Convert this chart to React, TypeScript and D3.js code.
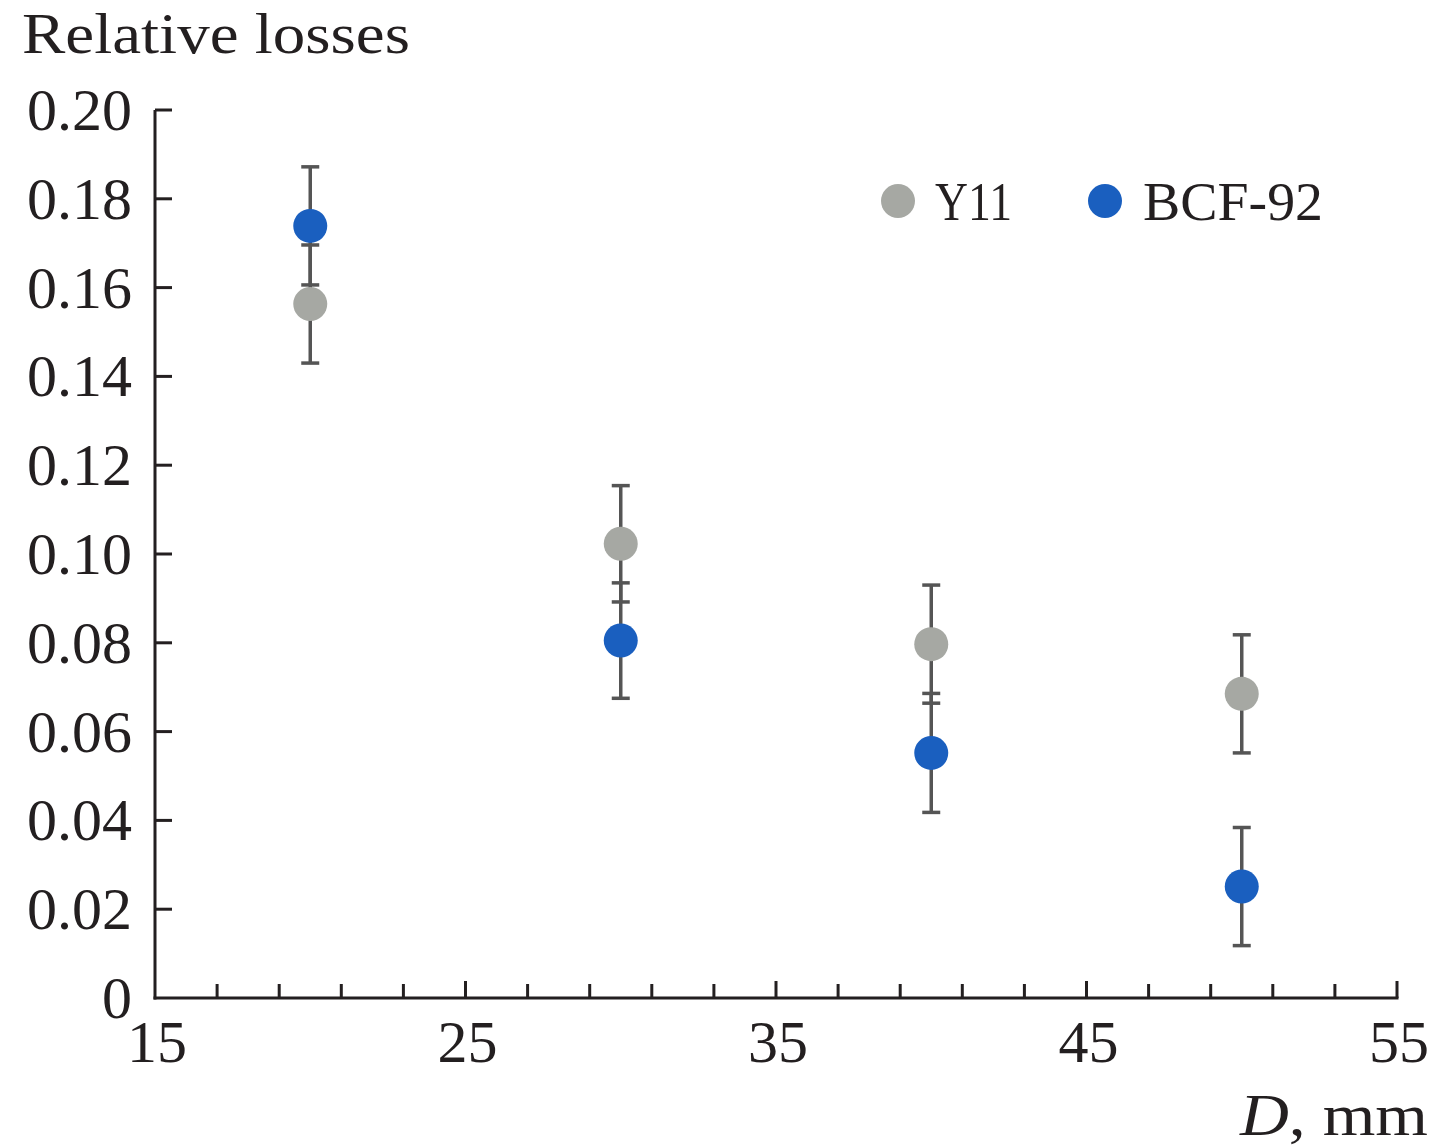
import React from "react";
import * as d3 from "d3";

const diameters = [20, 30, 40, 50];
const y11Values = [0.1563, 0.1023, 0.0797, 0.0685];
const y11Errors = [0.0133, 0.0131, 0.0133, 0.0133];
const bcfValues = [0.1739, 0.0805, 0.0552, 0.0251];
const bcfErrors = [0.0133, 0.013, 0.0134, 0.0133];
const yTickValues = [0, 0.02, 0.04, 0.06, 0.08, 0.1, 0.12, 0.14, 0.16, 0.18, 0.2];
const yTickLabels = ["0", "0.02", "0.04", "0.06", "0.08", "0.10", "0.12", "0.14", "0.16", "0.18", "0.20"];
const xMajorTicks = [15, 25, 35, 45, 55];
const xTickLabels = ["15", "25", "35", "45", "55"];
const seriesNames = ["Y11", "BCF-92"];

const FONT = "'Liberation Serif', 'Times New Roman', serif";
const INK = "#231f20";
const GRAY = "#a6a8a3";
const BLUE = "#1a5fbf";
const ERR = "#555555";

export default function App() {
  const x = d3.scaleLinear().domain([15, 55]).range([155, 1397]);
  const y = d3.scaleLinear().domain([0, 0.2]).range([998, 110]);
  const xMinor = d3.range(15, 55.01, 2);

  const series = [
    { name: seriesNames[0], values: y11Values, errors: y11Errors, color: GRAY },
    { name: seriesNames[1], values: bcfValues, errors: bcfErrors, color: BLUE },
  ];

  const capHalf = 9;

  return (
    <svg
      width={1440}
      height={1148}
      style={{ position: "absolute", left: 0, top: 0, display: "block", background: "#fff" }}
    >
      {/* axes */}
      <line x1={x(15)} x2={x(15)} y1={y(0.2)} y2={y(0) + 1.5} stroke={INK} strokeWidth={3} />
      <line x1={x(15) - 1.5} x2={x(55) + 1.5} y1={y(0)} y2={y(0)} stroke={INK} strokeWidth={3} />

      {/* y ticks */}
      {yTickValues.map((v, i) => (
        <g key={"yt" + i}>
          {v > 0 && (
            <line x1={x(15)} x2={x(15) + 17} y1={y(v)} y2={y(v)} stroke={INK} strokeWidth={3} />
          )}
          <text
            x={132}
            y={y(v) + 20}
            textAnchor="end"
            fontFamily={FONT}
            fontSize={60}
            fill={INK}
          >
            {yTickLabels[i]}
          </text>
        </g>
      ))}

      {/* x ticks */}
      {xMinor.map((v, i) => {
        const major = xMajorTicks.some((m) => Math.abs(m - v) < 1e-6);
        if (Math.abs(v - 15) < 1e-6) return null;
        return (
          <line
            key={"xt" + i}
            x1={x(v)}
            x2={x(v)}
            y1={y(0)}
            y2={y(0) - (major ? 17 : 14)}
            stroke={INK}
            strokeWidth={3}
          />
        );
      })}
      {xMajorTicks.map((v, i) => (
        <text
          key={"xl" + i}
          x={x(v) + 2}
          y={1062}
          textAnchor="middle"
          fontFamily={FONT}
          fontSize={60}
          fill={INK}
        >
          {xTickLabels[i]}
        </text>
      ))}

      {/* axis titles */}
      <text
        x={22}
        y={53}
        fontFamily={FONT}
        fontSize={58}
        fill={INK}
        textLength={388}
        lengthAdjust="spacingAndGlyphs"
      >
        Relative losses
      </text>
      <text
        x={1240}
        y={1135}
        fontFamily={FONT}
        fontSize={60}
        fill={INK}
        textLength={188}
        lengthAdjust="spacingAndGlyphs"
      >
        <tspan fontStyle="italic">D</tspan>
        <tspan>, mm</tspan>
      </text>

      {/* error bars */}
      {series.map((s, si) =>
        diameters.map((d, i) => {
          const cx = x(d);
          const top = y(s.values[i] + s.errors[i]);
          const bot = y(s.values[i] - s.errors[i]);
          return (
            <g key={"e" + si + "-" + i} stroke={ERR} strokeWidth={3.5}>
              <line x1={cx} x2={cx} y1={top} y2={bot} />
              <line x1={cx - capHalf} x2={cx + capHalf} y1={top} y2={top} />
              <line x1={cx - capHalf} x2={cx + capHalf} y1={bot} y2={bot} />
            </g>
          );
        })
      )}

      {/* points */}
      {series.map((s, si) =>
        diameters.map((d, i) => (
          <circle key={"p" + si + "-" + i} cx={x(d)} cy={y(s.values[i])} r={17} fill={s.color} />
        ))
      )}

      {/* legend */}
      <circle cx={898} cy={201} r={17} fill={GRAY} />
      <text x={935} y={220} fontFamily={FONT} fontSize={54} fill={INK} textLength={77} lengthAdjust="spacingAndGlyphs">
        {seriesNames[0]}
      </text>
      <circle cx={1105} cy={201} r={17} fill={BLUE} />
      <text x={1143} y={220} fontFamily={FONT} fontSize={54} fill={INK} textLength={180} lengthAdjust="spacingAndGlyphs">
        {seriesNames[1]}
      </text>
    </svg>
  );
}
